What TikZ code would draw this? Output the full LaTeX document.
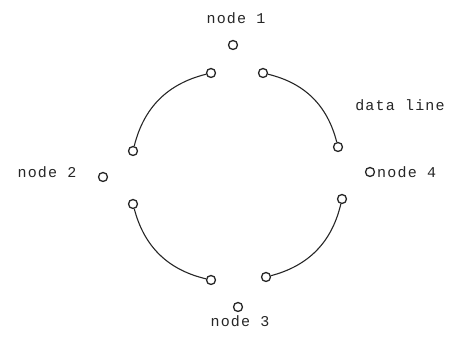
\documentclass[tikz,border=0pt]{standalone}
\usepackage{fontspec}
\setmonofont[LetterSpace=8]{Liberation Mono}
\begin{document}
\begin{tikzpicture}[x=1pt,y=1pt,
  port/.style={circle,draw=black!85,line width=1.3pt,minimum size=9pt,inner sep=0pt},
  lbl/.style={font=\ttfamily\fontsize{15}{17}\selectfont,text=black!85,inner sep=0pt},
  wire/.style={draw=black!85,line width=1.1pt}]
\useasboundingbox (0,0) rectangle (475,337);
% ports
\node[port] (n1) at (233,292) {};
\node[port] (tl) at (211,264) {};
\node[port] (tr) at (263,264) {};
\node[port] (lu) at (133,186) {};
\node[port] (n2) at (103,160) {};
\node[port] (ll) at (133,133) {};
\node[port] (ru) at (338,190) {};
\node[port] (n4) at (370,165) {};
\node[port] (rl) at (342,138) {};
\node[port] (bl) at (211,57) {};
\node[port] (br) at (266,60) {};
\node[port] (n3) at (238,30) {};
% labels
\node[lbl] (t1) at (236,319) {node 1};
\node[lbl] (t2) at (47,165) {node 2};
\node[lbl] (t3) at (240,16) {node 3};
\node[lbl,anchor=west] (t4) at (377,165) {node 4};
\node[lbl] (td) at (400,232) {data line};
% data lines
\draw[wire] (tl) to[bend right=31] (lu);
\draw[wire] (tr) to[bend left=31] (ru);
\draw[wire] (rl) to[bend left=31] (br);
\draw[wire] (bl) to[bend left=31] (ll);
\end{tikzpicture}
\end{document}
